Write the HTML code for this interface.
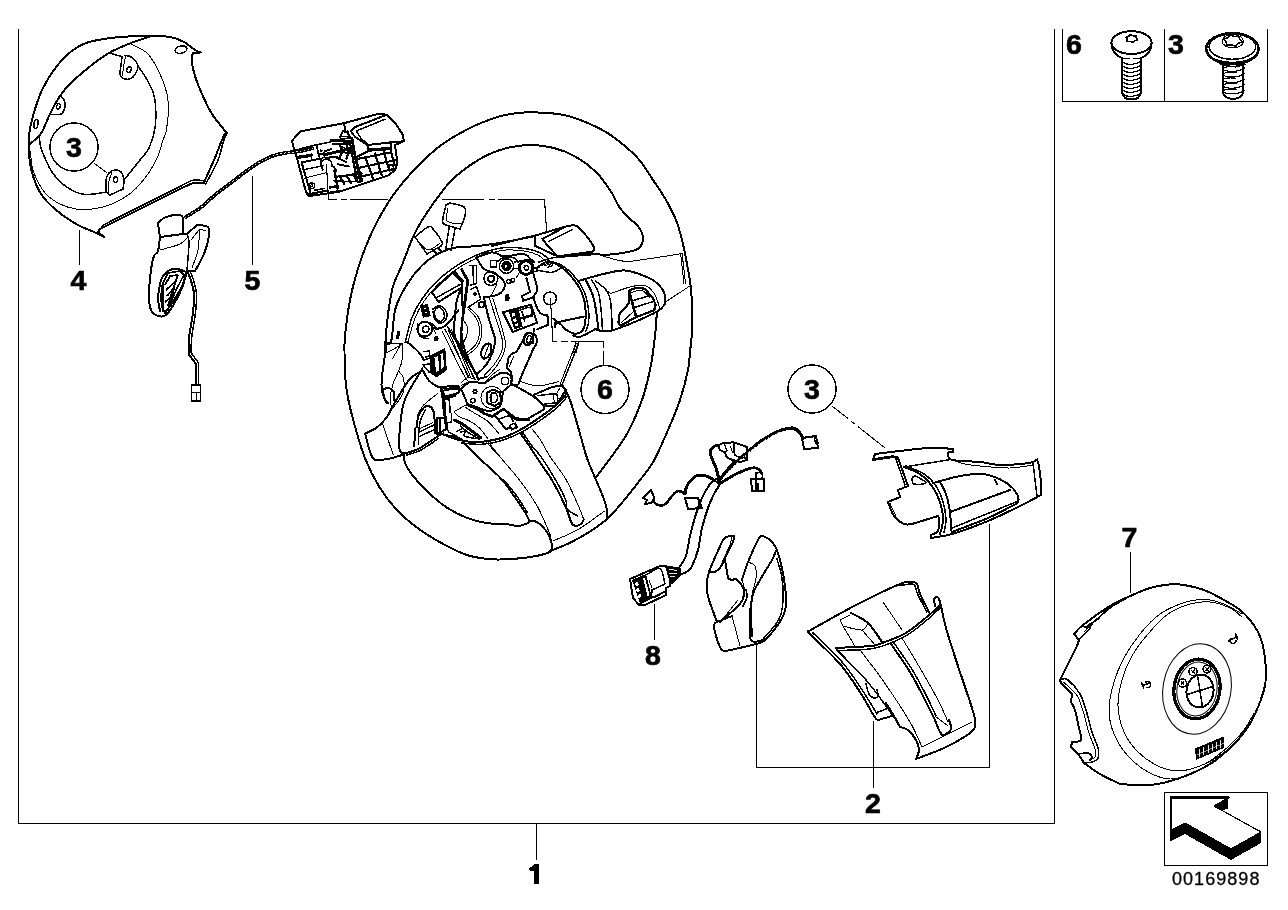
<!DOCTYPE html>
<html><head><meta charset="utf-8"><title>Steering wheel parts</title>
<style>
html,body{margin:0;padding:0;background:#fff;}
body{width:1288px;height:910px;overflow:hidden;position:relative;font-family:"Liberation Sans",sans-serif;}
svg{position:absolute;left:0;top:0;display:block;}
.f{fill:none;stroke:#000;stroke-width:1;shape-rendering:crispEdges;}
.k{fill:none;stroke:#000;stroke-width:2;stroke-linejoin:round;stroke-linecap:round;}
.m{fill:none;stroke:#000;stroke-width:1.5;stroke-linejoin:round;stroke-linecap:round;}
.t{fill:none;stroke:#000;stroke-width:1;stroke-linejoin:round;stroke-linecap:round;}
.w{fill:#fff;}
.b{fill:#000;stroke:none;}
.lb{font-family:"Liberation Sans",sans-serif;font-weight:bold;font-size:28.5px;fill:#000;text-anchor:middle;stroke:#000;stroke-width:0.7px;}
.id{font-family:"Liberation Sans",sans-serif;font-size:18px;fill:#000;letter-spacing:1.05px;stroke:#000;stroke-width:0.3px;}
</style></head><body>
<svg shape-rendering="crispEdges" width="1288" height="910" viewBox="0 0 1288 910">
<!-- frame -->
<g id="frame">
<path class="f" d="M18.5 29V823.5H1054.5V29"/>
<path class="f" d="M1062.5 29V101.5H1267.5V29M1164.5 29V101.5"/>
<path class="f" d="M536.5 823.5V859.5"/>
<rect class="f" x="1164.5" y="792.5" width="103" height="73"/>
</g>
<!-- labels -->
<g id="labels" style="filter:grayscale(1)">
<path class="b" d="M534.4 864H539V883.7H534.4V871.2C533 871.6 531 871.3 529 870.3V867.8C531.5 867.5 533.3 866.2 534.4 864Z"/>
<text class="lb" x="873" y="813">2</text>
<text class="lb" x="78.5" y="290">4</text>
<text class="lb" x="252.5" y="290">5</text>
<text class="lb" x="1129.5" y="547">7</text>
<text class="lb" x="653" y="665">8</text>
<text class="lb" x="1074" y="54">6</text>
<text class="lb" x="1176" y="54">3</text>
<text class="lb" x="74" y="157">3</text>
<text class="lb" x="605" y="399">6</text>
<text class="lb" x="812" y="399">3</text>
<text class="id" x="1172" y="884.5">00169898</text>
</g>
<g id="circles">
<circle class="m" cx="74" cy="147" r="24"/>
<circle class="m" cx="605" cy="389.5" r="24"/>
<circle class="m" cx="812" cy="389" r="24"/>
</g>
<g id="leaders">
<path class="f" d="M79.5 230V265M252.5 176V265M654.5 604V640M1130.5 552V593M873.5 721V788"/>
<path class="f" d="M756.5 644V767.5H989.5V524"/>
<path class="t" d="M832 406L848 418.5M851.5 421.5L855 424M858.5 427L885 448" style="stroke-width:1"/>
</g>
<!-- arrow -->
<g id="arrow">
<path class="b" d="M1171 830L1185 823L1231 849L1261 832V843L1231 860L1185 834L1171 841Z"/>
<path class="b" d="M1228 798V809L1222 810L1214 806Z"/>
<path d="M1171 798H1228L1214 806L1261 832L1231 849L1185 823L1171 830Z" fill="#fff" stroke="#000" stroke-width="1.2"/>
<path d="M1170 797.5H1229" stroke="#000" stroke-width="2.4" fill="none"/>
<path d="M1171 797V841" stroke="#000" stroke-width="1.6" fill="none"/>
</g>
<!-- screws -->
<g id="screws">
<path class="k w" d="M1111.4 43C1111.4 50 1114 54.5 1122 58.2C1128 60 1135 60 1141 58.2C1149 54.5 1151.6 50 1151.6 43Z"/>
<ellipse class="k w" cx="1131.5" cy="42.6" rx="20.1" ry="11.4"/>
<path class="k w" d="M1122.4 59V93.5L1125 98C1128 99.6 1135 99.6 1138 98L1140.5 93.5V59"/>
<path class="t" style="stroke-width:1.2" d="M1123 62.5C1127 65.1 1135 65.1 1140 61.7 M1123 66.5C1127 69.1 1135 69.1 1140 65.7 M1123 70.5C1127 73.1 1135 73.1 1140 69.7 M1123 74.5C1127 77.1 1135 77.1 1140 73.7 M1123 78.5C1127 81.1 1135 81.1 1140 77.7 M1123 82.5C1127 85.1 1135 85.1 1140 81.7 M1123 86.5C1127 89.1 1135 89.1 1140 85.7 M1123 90.5C1127 93.1 1135 93.1 1140 89.7 M1123 94.5C1127 97.1 1135 97.1 1140 93.7"/>
<path class="m" d="M1137.8 39.8L1134.8 40.7L1133.1 42.5L1130.3 41.3L1127.0 41.3L1127.2 39.2L1125.6 37.4L1128.6 36.5L1130.3 34.7L1133.1 35.9L1136.4 35.9L1136.2 38.0Z"/>
<ellipse class="k w" cx="1232.4" cy="48.7" rx="26.2" ry="15.6" style="stroke-width:2.4"/>
<ellipse class="m" cx="1232.4" cy="46.7" rx="23.3" ry="12.6"/>
<path class="m" d="M1207.5 52C1212 66 1253 66 1257.3 52"/>
<path class="k w" d="M1223.2 65V93C1224 96.5 1228 98.8 1233 98.8C1238 98.8 1242.2 96.5 1243 93V65"/>
<path class="t" style="stroke-width:1.2" d="M1222.2 69.0C1227 72.4 1238 72.4 1244.2 68.0 M1222.2 69.0C1224 66.8 1230 66.4 1236 67.0 M1222.2 74.6C1227 78.0 1238 78.0 1244.2 73.6 M1222.2 74.6C1224 72.4 1230 72.0 1236 72.6 M1222.2 80.2C1227 83.6 1238 83.6 1244.2 79.2 M1222.2 80.2C1224 78.0 1230 77.6 1236 78.2 M1222.2 85.8C1227 89.2 1238 89.2 1244.2 84.8 M1222.2 85.8C1224 83.6 1230 83.2 1236 83.8 M1222.2 91.4C1227 94.8 1238 94.8 1244.2 90.4 M1222.2 91.4C1224 89.2 1230 88.8 1236 89.4"/>
<path class="m" d="M1221 64.3C1228 67.3 1238 67.3 1245 64.3"/>
<path class="m" d="M1242.1 41.8L1238.0 43.5L1235.8 46.2L1231.4 44.9L1226.5 45.0L1226.2 42.0L1223.5 39.4L1227.6 37.7L1229.8 35.0L1234.2 36.3L1239.1 36.2L1239.4 39.2Z"/>
<ellipse class="t" cx="1232.8" cy="41.2" rx="10.5" ry="6.8"/>
</g>
<g id="10_part4">
<path class="k" d="M201 52.4C200.0 52.0 197.8 51.7 195 50C192.2 48.3 188.2 44.2 184 42C179.8 39.8 176.3 38.0 170 37C163.7 36.0 155.3 35.9 146 36C136.7 36.1 124.0 36.4 114 37.6C104.0 38.8 93.7 40.3 86 43C78.3 45.7 73.3 49.5 68 54C62.7 58.5 58.2 64.3 54 70C49.8 75.7 46.0 82.0 43 88C40.0 94.0 38.0 100.0 36 106C34.0 112.0 32.2 118.3 31 124C29.8 129.7 28.8 134.0 28.6 140C28.4 146.0 28.9 154.0 29.6 160C30.3 166.0 31.1 170.3 33 176C34.9 181.7 37.2 188.3 41 194C44.8 199.7 50.2 205.0 56 210C61.8 215.0 69.7 220.3 76 224C82.3 227.7 89.3 229.8 94 232C98.7 234.2 102.3 236.2 104 237L98 232L100 229C104.0 227.0 114.0 222.0 124 217C134.0 212.0 150.7 203.7 160 199C169.3 194.3 174.5 191.7 180 189C185.5 186.3 190.8 184.0 193 183L204 183C204.3 182.2 204.3 181.8 206 178C207.7 174.2 211.3 166.3 214 160C216.7 153.7 220.0 144.7 222 140C224.0 135.3 225.3 133.3 226 132C223.7 129.0 216.0 120.3 212 114C208.0 107.7 204.8 100.3 202 94C199.2 87.7 196.7 81.7 195 76C193.3 70.3 191.9 63.8 191.6 60C191.3 56.2 192.8 54.2 193 53L201 52.4M150 36.5C146.8 37.6 137.8 40.2 131 43C124.2 45.8 116.2 48.8 109 53C101.8 57.2 94.5 62.8 88 68C81.5 73.2 74.7 79.3 70 84C65.3 88.7 63.3 91.0 60 96C56.7 101.0 52.8 108.3 50 114C47.2 119.7 44.8 126.3 43 130C41.2 133.7 41.2 133.7 39 136C36.8 138.3 31.5 142.7 30 144"/>
<path class="m" d="M39 136C39.3 138.0 40.0 144.3 41 148C42.0 151.7 43.2 154.0 45 158C46.8 162.0 48.8 167.5 52 172C55.2 176.5 59.3 181.4 64 185C68.7 188.6 75.0 192.1 80 193.6C85.0 195.1 89.7 194.3 94 194C98.3 193.7 104.0 192.3 106 192M109 53L120 56M138 66C139.3 68.0 143.5 73.7 146 78C148.5 82.3 151.4 87.3 153 92C154.6 96.7 155.3 100.0 155.6 106C155.9 112.0 156.1 121.0 155 128C153.9 135.0 151.5 142.7 149 148C146.5 153.3 144.2 154.7 140 160C135.8 165.3 126.7 176.7 124 180M122 57C121.8 58.5 121.3 63.2 121 66C120.7 68.8 119.3 71.8 120 74C120.7 76.2 122.8 78.5 125 79C127.2 79.5 130.8 79.2 133 77C135.2 74.8 138.3 69.3 138 66C137.7 62.7 133.2 58.7 131 57C128.8 55.3 126.0 55.8 125 55.6"/>
<path class="t" d="M125.5 57C125.2 58.7 124.0 63.8 123.5 67C123.0 70.2 122.7 74.5 122.5 76"/>
<ellipse class="m" cx="129" cy="69.6" rx="2.2" ry="2.8" transform="rotate(20 129 69.6)"/>
<path class="m" d="M60 96C60.7 96.7 63.2 98.2 64 100C64.8 101.8 65.5 104.7 65 107C64.5 109.3 63.2 112.8 61 114C58.8 115.2 53.5 114.4 52 114.5"/>
<ellipse class="m" cx="58.4" cy="106.4" rx="1.8" ry="2.8" transform="rotate(15 58.4 106.4)"/>
<ellipse class="m" cx="36" cy="124" rx="2" ry="4.6" transform="rotate(8 36 124)"/>
<ellipse class="m" cx="181" cy="49.6" rx="6" ry="3.6" transform="rotate(-12 181 49.6)"/>
<path class="t" d="M131 44C133.8 45.7 143.2 49.0 148 54C152.8 59.0 156.8 67.3 160 74C163.2 80.7 165.6 87.7 167 94C168.4 100.3 168.6 105.7 168.4 112C168.2 118.3 166.9 127.3 166 132C165.1 136.7 164.3 136.0 163 140C161.7 144.0 160.5 150.3 158 156C155.5 161.7 152.3 168.0 148 174C143.7 180.0 138.0 187.0 132 192C126.0 197.0 118.7 201.2 112 204C105.3 206.8 98.0 208.2 92 209C86.0 209.8 81.3 209.8 76 209C70.7 208.2 65.0 206.5 60 204C55.0 201.5 50.0 198.3 46 194C42.0 189.7 38.3 182.7 36 178C33.7 173.3 32.9 170.3 32 166C31.1 161.7 30.8 154.3 30.5 152"/>
<path class="m" d="M103.5 225C106.9 223.2 114.6 219.2 124 214.5C133.4 209.8 150.7 201.2 160 196.5C169.3 191.8 174.7 189.2 180 186.5C185.3 183.8 188.2 181.5 192 180.5C195.8 179.5 201.2 180.5 203 180.5"/>
<path class="t" d="M103.5 225L100 229"/>
<path class="m" d="M227.5 133C226.8 134.3 225.0 136.7 223.5 141C222.0 145.3 220.8 153.0 218.5 159C216.2 165.0 211.7 172.8 209.5 177C207.3 181.2 206.2 182.8 205.5 184M106 192C106.0 190.0 105.5 183.2 106 180C106.5 176.8 107.5 174.7 109 173C110.5 171.3 113.0 170.2 115 170C117.0 169.8 119.5 170.3 121 172C122.5 173.7 123.7 177.2 124 180C124.3 182.8 123.2 187.5 123 189L110 195L106 192"/>
<path class="t" d="M108.5 193C108.6 191.0 108.4 184.4 109 181C109.6 177.6 111.5 173.9 112 172.5"/>
<ellipse class="m" cx="115.6" cy="179.6" rx="2" ry="2.8" transform="rotate(10 115.6 179.6)"/>
<path class="t" d="M94 163L107 173"/>
</g>
<g id="11_part5">
<path class="k" d="M292 140.7L300.4 131.4L344.3 123.1L379 113.6L386.6 114.7L394.9 122.6L403.1 135.2L403.7 141.3L394.9 145.1C395.3 147.9 397.1 158.0 397.1 162.1C397.1 166.2 396.4 167.6 394.9 169.8C393.4 172.0 389.4 174.4 388.3 175.3L338.8 191.8L308.6 196.2L305.9 191.8L296 154.5L293.8 148.4L292 140.7"/>
<path class="m" d="M293.8 148.4L296 150C298.8 149.3 306.6 147.1 312.5 145.7C318.4 144.3 328.1 142.5 331.2 141.8L332.3 140.2L351 138"/>
<path class="k" d="M344.3 123.1L344.9 132.5M351 131.4L355.3 127L385 115.4"/>
<path class="m" d="M356.4 130.8L385 119.3"/>
<path class="k" d="M351 131.4C351.7 132.3 352.6 134.6 355.3 136.9C358.0 139.2 365.4 143.7 367.4 145.1C371.2 144.7 384.4 143.0 390.5 142.4C396.6 141.8 401.5 141.5 403.7 141.3"/>
<path class="m" d="M356.4 130.8C357.1 132.0 358.8 135.7 360.8 138C362.8 140.3 367.2 143.6 368.5 144.7"/>
<path class="k" d="M367.4 145.1L368.5 151.2L355.3 157.7M352 138C352.6 141.3 354.0 150.8 355.3 157.7C356.6 164.6 359.0 176.0 359.7 179.7"/>
<path d="M301.5 162.1L310.8 194.0" fill="none" stroke="#000" stroke-width="2" stroke-linejoin="round" stroke-linecap="round"/>
<path d="M297.1 157.5L311.4 155.3" fill="none" stroke="#000" stroke-width="3.2" stroke-linejoin="round" stroke-linecap="round"/>
<path d="M311.4 153.4L311.4 158.8" fill="none" stroke="#000" stroke-width="1.6" stroke-linejoin="round" stroke-linecap="round"/>
<path d="M301.5 162.4L318.0 159.1" fill="none" stroke="#000" stroke-width="2" stroke-linejoin="round" stroke-linecap="round"/>
<path d="M302.6 169.8L323.5 165.7" fill="none" stroke="#000" stroke-width="1.4" stroke-linejoin="round" stroke-linecap="round"/>
<path d="M304.2 178.1L325.7 172.8" fill="none" stroke="#000" stroke-width="1" stroke-linejoin="round" stroke-linecap="round"/>
<path d="M308.6 194.2L325.7 190.9" fill="none" stroke="#000" stroke-width="2.2" stroke-linejoin="round" stroke-linecap="round"/>
<path d="M314.7 190.2L324.6 188.5" fill="none" stroke="#000" stroke-width="1.6" stroke-linejoin="round" stroke-linecap="round"/>
<path d="M330.1 187.4L337.7 186.3" fill="none" stroke="#000" stroke-width="2.6" stroke-linejoin="round" stroke-linecap="round"/>
<path d="M330.1 192.9L338.8 191.3" fill="none" stroke="#000" stroke-width="2.6" stroke-linejoin="round" stroke-linecap="round"/>
<path d="M316.9 144.8L318.0 153.4L323.5 154.5L324.8 151.2L331.2 149.0" fill="none" stroke="#000" stroke-width="1.8" stroke-linejoin="round" stroke-linecap="round"/>
<path d="M319.9 148.4L323.7 151.2L320.2 152.0Z" fill="#000"/>
<path d="M318.0 153.4L321.3 162.1" fill="none" stroke="#000" stroke-width="1.6" stroke-linejoin="round" stroke-linecap="round"/>
<path d="M320.2 159.9L324.6 156.6" fill="none" stroke="#000" stroke-width="1.4" stroke-linejoin="round" stroke-linecap="round"/>
<path d="M331.2 140.4L352.0 141.5" fill="none" stroke="#000" stroke-width="3" stroke-linejoin="round" stroke-linecap="round"/>
<path d="M333.4 143.7L349.8 143.7" fill="none" stroke="#000" stroke-width="2.4" stroke-linejoin="round" stroke-linecap="round"/>
<path d="M324.6 154.7L350.9 148.6" fill="none" stroke="#000" stroke-width="3" stroke-linejoin="round" stroke-linecap="round"/>
<path d="M325.7 158.0L336.6 156.6" fill="none" stroke="#000" stroke-width="2" stroke-linejoin="round" stroke-linecap="round"/>
<path d="M343.2 130.5L339.9 137.1" fill="none" stroke="#000" stroke-width="2" stroke-linejoin="round" stroke-linecap="round"/>
<path d="M347.4 131.6L349.8 138.0" fill="none" stroke="#000" stroke-width="2.4" stroke-linejoin="round" stroke-linecap="round"/>
<path d="M341.0 136.3L349.3 136.9" fill="none" stroke="#000" stroke-width="1.6" stroke-linejoin="round" stroke-linecap="round"/>
<path d="M339.9 144.6L342.4 151.2L339.9 156.6" fill="none" stroke="#000" stroke-width="2.2" stroke-linejoin="round" stroke-linecap="round"/>
<path d="M346.5 144.8L348.7 151.2L346.5 158.8" fill="none" stroke="#000" stroke-width="2.2" stroke-linejoin="round" stroke-linecap="round"/>
<path d="M336.6 151.2L350.9 153.4" fill="none" stroke="#000" stroke-width="2" stroke-linejoin="round" stroke-linecap="round"/>
<path d="M334.5 156.6L346.5 162.1" fill="none" stroke="#000" stroke-width="2" stroke-linejoin="round" stroke-linecap="round"/>
<path d="M342.1 146.8L346.5 149.0" fill="none" stroke="#000" stroke-width="1.6" stroke-linejoin="round" stroke-linecap="round"/>
<path d="M337.7 164.3L348.7 166.5" fill="none" stroke="#000" stroke-width="2" stroke-linejoin="round" stroke-linecap="round"/>
<path d="M333.4 166.5L336.6 170.9" fill="none" stroke="#000" stroke-width="1.8" stroke-linejoin="round" stroke-linecap="round"/>
<path d="M352.0 138.0L355.3 157.7L361.9 180.8" fill="none" stroke="#000" stroke-width="2.8" stroke-linejoin="round" stroke-linecap="round"/>
<path d="M349.8 141.5L353.1 159.9L357.5 181.9" fill="none" stroke="#000" stroke-width="2.2" stroke-linejoin="round" stroke-linecap="round"/>
<path d="M355.3 157.7L368.5 151.2L367.4 145.1" fill="none" stroke="#000" stroke-width="2.2" stroke-linejoin="round" stroke-linecap="round"/>
<path d="M368.5 150.1L390.5 148.5" fill="none" stroke="#000" stroke-width="3.4" stroke-linejoin="round" stroke-linecap="round"/>
<path d="M390.5 142.4L391.6 154.5L394.9 164.9" fill="none" stroke="#000" stroke-width="2" stroke-linejoin="round" stroke-linecap="round"/>
<path d="M365.2 156.6L372.9 178.6" fill="none" stroke="#000" stroke-width="2.2" stroke-linejoin="round" stroke-linecap="round"/>
<path d="M375.1 153.4L381.7 175.3" fill="none" stroke="#000" stroke-width="2.2" stroke-linejoin="round" stroke-linecap="round"/>
<path d="M383.9 152.3L389.4 170.9" fill="none" stroke="#000" stroke-width="2.2" stroke-linejoin="round" stroke-linecap="round"/>
<path d="M356.4 159.1L390.5 152.5" fill="none" stroke="#000" stroke-width="2" stroke-linejoin="round" stroke-linecap="round"/>
<path d="M358.6 167.9L394.9 160.2" fill="none" stroke="#000" stroke-width="2" stroke-linejoin="round" stroke-linecap="round"/>
<path d="M360.8 176.6L393.8 169.0" fill="none" stroke="#000" stroke-width="2" stroke-linejoin="round" stroke-linecap="round"/>
<path d="M334.5 170.9L337.7 188.5" fill="none" stroke="#000" stroke-width="2.4" stroke-linejoin="round" stroke-linecap="round"/>
<path d="M337.7 176.6L361.9 173.4" fill="none" stroke="#000" stroke-width="2" stroke-linejoin="round" stroke-linecap="round"/>
<path d="M333.4 180.8L360.8 181.9" fill="none" stroke="#000" stroke-width="1.4" stroke-linejoin="round" stroke-linecap="round"/>
<path d="M339.9 176.4L344.3 184.1" fill="none" stroke="#000" stroke-width="2.2" stroke-linejoin="round" stroke-linecap="round"/>
<path d="M346.5 175.3L350.9 183.0" fill="none" stroke="#000" stroke-width="2.2" stroke-linejoin="round" stroke-linecap="round"/>
<path d="M353.1 174.2L357.5 181.9" fill="none" stroke="#000" stroke-width="2.2" stroke-linejoin="round" stroke-linecap="round"/>
<path d="M388.3 166.5L393.8 164.3" fill="none" stroke="#000" stroke-width="1.6" stroke-linejoin="round" stroke-linecap="round"/>
<circle class="m" cx="391.0" cy="167.6" r="2.6"/>
<circle class="m" cx="311.9" cy="185.8" r="2.8"/>
<circle class="t" cx="311.9" cy="185.8" r="1.2"/>
<path class="m" d="M323 170C322.6 169.2 320.9 166.6 320.8 165C320.7 163.4 321.5 161.4 322.5 160.5C323.5 159.6 325.6 159.1 327 159.3C328.4 159.5 330.2 160.4 331 161.5C331.8 162.6 331.8 165.2 332 166"/>
<path d="M184.5 217.8C187.4 215.9 196.8 210.6 202 206.6C207.2 202.6 211.3 197.8 216 194C220.7 190.2 225.4 187.1 230 183.6C234.6 180.1 239.2 176.4 243.8 173C248.4 169.6 253.1 166.1 257.8 163.3C262.5 160.5 267.1 158.1 271.8 156.3C276.5 154.6 281.2 153.6 285.8 152.8C290.4 152.0 295.1 152.2 299.7 151.4C304.3 150.6 311.4 148.6 313.7 148" fill="none" stroke="#000" stroke-width="3.6" stroke-linecap="butt"/>
<path d="M184.5 217.8C187.4 215.9 196.8 210.6 202 206.6C207.2 202.6 211.3 197.8 216 194C220.7 190.2 225.4 187.1 230 183.6C234.6 180.1 239.2 176.4 243.8 173C248.4 169.6 253.1 166.1 257.8 163.3C262.5 160.5 267.1 158.1 271.8 156.3C276.5 154.6 281.2 153.6 285.8 152.8C290.4 152.0 295.1 152.2 299.7 151.4C304.3 150.6 311.4 148.6 313.7 148" fill="none" stroke="#fff" stroke-width="0.9" stroke-dasharray="1.5 2.5"/>
<path class="t" style="stroke-width:1.1" d="M326.5 165L328.5 199.5"/>
<path class="f" d="M328.5 199.5H336.6M340.5 199.5H347M349.8 199.5H388.3"/>
<path class="f" d="M442 199.5H484M489 199.5H495M498 199.5H544.5"/>
<path class="t" style="stroke-width:1.1" d="M544.5 199.5L546.5 230"/>
</g>
<g id="12_part5left">
<path class="k" d="M158 223C159.3 222.0 162.3 218.3 166 217C169.7 215.7 177.2 214.8 180 215C182.8 215.2 182.5 217.5 183 218L183 234L160 237L158 223M160 237C159.7 239.3 159.0 247.8 158 251C157.0 254.2 155.2 252.8 154 256C152.8 259.2 151.8 263.7 151 270C150.2 276.3 149.0 287.3 149 294C149.0 300.7 149.5 306.3 151 310C152.5 313.7 155.5 315.2 158 316C160.5 316.8 163.3 317.0 166 315C168.7 313.0 171.3 308.5 174 304C176.7 299.5 179.8 293.5 182 288C184.2 282.5 186.2 273.8 187 271M183 234L187 234L197 225C198.8 225.3 206.0 225.2 208 227C210.0 228.8 209.7 231.5 209 236C208.3 240.5 206.3 248.2 204 254C201.7 259.8 196.5 268.2 195 271L187 271"/>
<path class="m" d="M187 234C187.3 235.3 189.0 235.8 189 242C189.0 248.2 187.3 266.2 187 271"/>
<path class="t" d="M191 240C192.4 238.3 197.1 231.5 199.5 230C201.9 228.5 204.5 230.8 205.5 231M199.5 230C199.2 233.3 199.2 243.7 198 250C196.8 256.3 193.0 265.0 192 268M160 250C163.3 249.0 175.2 246.3 180 244C184.8 241.7 187.5 237.3 189 236"/>
<path class="k" d="M160 284C160.5 282.7 161.3 278.3 163 276C164.7 273.7 167.5 271.2 170 270C172.5 268.8 175.3 268.7 178 269C180.7 269.3 184.7 271.5 186 272M160 284C159.7 286.3 158.0 293.5 158 298C158.0 302.5 159.7 308.8 160 311"/>
<path class="m" d="M162 286C161.8 288.3 160.8 295.8 161 300C161.2 304.2 162.7 309.2 163 311"/>
<path class="k" d="M186 272C185.5 274.0 185.0 279.3 183 284C181.0 288.7 177.0 295.2 174 300C171.0 304.8 166.5 310.8 165 313"/>
<path d="M163 283L168 273L180 271L184 275L176 290L168 310L163 311Z" fill="none" stroke="#000" stroke-width="1.6" stroke-linejoin="round"/>
<path d="M165 285L170 276L178 275M166 290L176 281M167 296L174 288L170 304M165 302L172 296M178 275L172 292L168 306" fill="none" stroke="#000" stroke-width="1.8"/>
<path class="k" d="M187 271C187.6 272.3 189.4 275.5 190.5 279C191.6 282.5 193.2 287.8 193.8 292C194.4 296.2 194.1 299.7 193.8 304C193.5 308.3 193.0 312.3 192.2 318C191.4 323.7 189.6 332.0 189 338C188.4 344.0 188.7 351.3 188.6 354L196 364L196 385"/>
<path class="m" d="M189.5 270.5C190.1 271.8 191.9 274.9 193 278.5C194.1 282.1 195.8 287.8 196.3 292C196.9 296.2 196.6 299.7 196.3 304C196.0 308.3 195.5 312.3 194.7 318C193.9 323.7 192.2 332.2 191.6 338C191.0 343.8 191.3 350.5 191.2 353L198.6 363L198.6 385"/>
<rect class="m" x="191.6" y="385" width="9" height="16"/>
<path class="t" d="M191.6 392.5h9M196 393v8"/>
</g>
<g id="20_rim">
<path class="k" d="M344.5 352C344.6 349.3 344.1 344.7 345 336C345.9 327.3 347.9 311.0 350 300C352.1 289.0 354.9 279.0 357.6 270C360.3 261.0 362.6 254.3 366 246C369.4 237.7 373.3 228.7 378 220C382.7 211.3 388.0 202.3 394 194C400.0 185.7 406.3 178.0 414 170C421.7 162.0 430.7 153.0 440 146C449.3 139.0 460.4 132.8 470 128C479.6 123.2 489.9 119.5 497.6 117C505.3 114.5 509.6 114.0 516 113.2C522.4 112.4 528.0 112.1 536 112.4C544.0 112.7 555.0 113.1 564 115C573.0 116.9 582.0 120.5 590 124C598.0 127.5 604.1 130.3 612 136C619.9 141.7 630.8 150.7 637.6 158C644.4 165.3 648.3 173.0 653 180C657.7 187.0 662.2 193.3 666 200C669.8 206.7 673.3 213.3 676 220C678.7 226.7 680.2 232.7 682 240C683.8 247.3 685.6 256.5 687 264C688.4 271.5 689.6 277.3 690.5 285C691.4 292.7 692.1 302.2 692.4 310C692.6 317.8 692.4 325.0 692 332C691.6 339.0 690.7 345.7 690 352C689.3 358.3 689.7 362.0 688 370C686.3 378.0 683.3 390.0 680 400C676.7 410.0 672.4 419.8 668 430C663.6 440.2 658.4 452.6 653.7 461C649.0 469.4 644.8 473.8 639.7 480.5C634.6 487.2 628.6 495.0 623 501.5C617.4 508.0 612.3 514.4 606.2 519.7C600.1 525.1 593.1 529.5 586.6 533.6C580.1 537.7 572.9 541.3 567.1 544.1C561.3 546.9 555.0 548.9 551.7 550.4C548.4 551.9 551.5 552.0 547.5 553.2C543.5 554.4 535.9 556.4 528 557.4C520.1 558.4 507.3 559.3 500 559.5C492.7 559.7 490.0 559.4 484 558.5C478.0 557.6 472.0 557.1 464 554C456.0 550.9 444.1 544.6 436 540C427.9 535.4 422.2 531.7 415.5 526.5C408.8 521.3 402.0 515.6 395.9 509C389.8 502.4 384.2 495.0 379.1 486.6C374.0 478.2 369.1 468.5 365.2 458.7C361.2 448.9 358.2 437.7 355.4 427.9C352.6 418.1 350.1 408.8 348.4 400C346.7 391.2 345.6 383.0 345 375C344.4 367.0 344.6 355.8 344.5 352M385.6 352.2C385.8 347.3 385.8 333.5 387 322.8C388.2 312.1 390.0 297.7 392.6 287.9C395.2 278.1 398.9 272.8 402.4 264.1C405.9 255.5 409.6 244.3 413.5 236C417.4 227.7 419.9 223.0 426 214C432.1 205.0 441.8 190.7 450 182C458.2 173.3 466.7 167.3 475 162C483.3 156.7 491.2 152.8 500 150C508.8 147.2 519.0 145.3 528 145C537.0 144.7 546.0 146.0 554 148C562.0 150.0 569.0 153.0 576 157C583.0 161.0 590.3 166.5 596 172C601.7 177.5 606.0 184.0 610 190C614.0 196.0 616.7 203.2 620 208C623.3 212.8 627.0 216.0 630 219C633.0 222.0 635.8 222.8 638 226C640.2 229.2 642.8 234.3 643 238C643.2 241.7 641.5 245.7 639 248C636.5 250.3 633.8 250.8 628 252C622.2 253.2 609.7 254.7 604 255C598.3 255.3 601.7 253.7 594 254C586.3 254.3 564.0 256.5 558 257M384.7 343C385.8 342.7 389.4 346.7 391.2 341C393.0 335.3 392.8 318.1 395.4 308.8C398.0 299.5 402.2 292.3 406.6 285.1C411.0 277.9 417.0 270.5 421.9 265.5C426.8 260.5 430.8 257.9 435.9 255C441.0 252.1 445.7 249.5 452.7 248C459.7 246.5 468.9 247.0 477.8 246C486.7 245.0 496.3 243.5 505.8 241.8C515.3 240.1 530.1 237.0 535 236"/>
<path class="t" d="M603.8 256.4C607.3 257.2 617.8 260.8 624.8 261.3C631.8 261.8 636.2 260.5 645.8 259.2C655.3 257.9 676.0 254.5 682.1 253.6L685.6 283.7M680.7 254L684 283.5M689.1 286.5L666.7 301.2"/>
<path class="k" d="M656.9 311.6C656.7 314.6 656.2 323.1 655.6 329.8C655.0 336.5 653.9 345.3 653 352C652.1 358.7 651.8 362.0 650 370C648.2 378.0 645.7 389.7 642 400C638.3 410.3 633.3 422.3 628 432C622.7 441.7 615.8 450.6 610.4 458.2C605.0 465.8 598.2 474.4 595.7 477.7M563 385.9C564.2 388.2 567.5 392.9 570 399.9C572.5 406.9 575.5 418.2 578.3 427.8C581.1 437.4 583.9 448.9 586.7 457.2C589.5 465.5 592.3 471.2 595 477.7C597.7 484.1 600.7 490.5 602.7 495.9C604.7 501.3 606.2 506.0 606.9 509.9C607.6 513.8 606.9 517.5 606.9 519M418.3 372.7C416.8 373.9 412.7 375.4 409 380C405.3 384.6 398.8 395.9 395.9 400.6C393.0 405.3 393.3 405.5 391.7 408.4C390.1 411.3 388.7 414.9 386.1 418.2C383.5 421.4 379.8 425.3 376.3 427.9C372.8 430.4 367.1 432.6 365.2 433.5C365.6 435.4 366.8 440.7 367.9 444.7C369.0 448.7 371.4 455.2 372.1 457.3C372.8 457.8 373.5 459.9 376.3 460.1C379.1 460.3 384.7 459.5 388.9 458.7C393.1 457.9 398.7 456.1 401.5 455.2C404.3 454.3 405.0 453.5 405.7 453.1"/>
<path class="t" d="M382.6 423.8L393.1 454.5"/>
<path class="k" d="M422.5 368.5C420.4 372.0 413.0 383.8 409.9 389.4C406.8 395.0 405.4 397.9 404 402C402.6 406.1 402.3 408.5 401.5 414C400.7 419.5 399.8 429.1 399.4 434.9C399.0 440.7 399.0 446.0 399.4 448.9C399.8 451.8 400.4 451.7 401.5 452.4C402.6 453.1 402.9 453.7 405.7 453.1C408.5 452.5 414.4 450.8 418.3 448.9C422.2 447.0 426.1 444.0 429.4 441.9C432.6 439.8 435.5 437.7 437.8 436.3C440.1 434.9 442.5 434.0 443.4 433.5"/>
<path class="m" d="M407 455C409.0 454.3 415.1 452.8 419 451C422.9 449.2 427.2 446.1 430.5 444C433.8 441.9 437.2 439.4 438.5 438.5"/>
<path class="k" d="M404.3 453.1C404.4 454.7 403.6 459.2 405 462.9C406.4 466.6 409.1 470.9 412.7 475.5C416.3 480.1 421.2 485.7 426.6 490.8C432.0 495.9 438.3 501.8 444.8 506.2C451.3 510.6 458.8 514.6 465.8 517.4C472.8 520.2 479.7 521.8 486.7 523C493.7 524.2 502.4 523.9 507.7 524.4C513.0 524.9 514.8 526.2 518.2 526C521.6 525.8 526.1 523.9 528 523C529.9 522.1 529.1 520.8 529.3 520.4M529.3 520.4C530.7 520.7 534.9 520.7 537.7 522.4C540.5 524.1 543.9 527.8 546.1 530.8C548.3 533.8 550.1 537.6 551 540.6C551.9 543.6 552.3 546.9 551.7 549C551.1 551.1 548.2 552.5 547.5 553.2"/>
<path class="t" d="M553.8 540.6C557.9 538.7 569.9 534.3 578.3 529.4C586.7 524.5 599.8 514.3 604.1 511.3"/>
<path class="k" d="M443.4 434.9C446.0 435.4 455.1 436.1 458.8 437.7C462.5 439.3 462.3 441.2 465.8 444.7C469.3 448.2 473.9 453.1 479.7 458.7C485.5 464.3 495.0 472.1 500.7 478.3C506.4 484.5 509.9 490.3 514 496C518.1 501.7 522.7 508.6 525.2 512.7C527.8 516.8 528.6 519.1 529.3 520.4"/>
<path class="m" d="M503.5 479.7C505.6 482.2 512.1 489.6 516 495C519.9 500.4 525.2 509.2 527 512"/>
<path class="t" d="M488.1 441.9C490.1 444.4 494.5 450.1 500 456.8C505.5 463.5 514.7 473.6 521 482C527.3 490.4 532.7 497.9 537.7 507C542.7 516.1 548.8 531.5 551 536.4M486.1 441.8L500.1 457.2"/>
<path class="k" d="M521 434.1C522.4 436.1 526.4 441.5 529.4 446C532.4 450.5 535.1 455.0 539.1 461C543.1 467.0 548.7 474.3 553.1 482C557.5 489.7 562.7 500.3 565.7 507C568.7 513.7 569.7 519.2 571.3 522.4C572.9 525.6 573.9 525.8 575.5 526C577.1 526.2 579.6 524.8 581 523.8C582.4 522.8 583.3 520.4 583.8 519.7"/>
<path class="m" d="M523 433C524.5 435.2 528.9 441.8 532 446C535.1 450.2 537.9 452.2 541.9 458C545.9 463.8 551.9 473.5 555.9 480.5C559.9 487.5 563.9 495.2 565.7 500C567.6 504.8 565.0 506.3 567 509C569.0 511.7 575.8 514.8 577.6 516"/>
<path class="t" d="M532.2 429.2C533.6 431.0 537.5 435.3 540.5 440C543.5 444.7 546.2 450.7 550.4 457.2C554.6 463.7 561.1 470.9 565.7 479C570.4 487.1 575.3 498.9 578.3 505.7C581.3 512.5 582.9 517.4 583.8 519.7"/>
<path class="k" d="M384.7 341.9C384.7 344.2 385.2 350.1 384.7 355.9C384.2 361.7 382.4 371.1 381.9 376.9C381.4 382.7 381.2 386.6 381.9 390.8C382.6 395.0 385.1 399.9 386.1 402C387.2 404.1 387.9 403.2 388.2 403.4"/>
<path class="m" d="M384.7 343L402.9 344"/>
<path class="t" d="M402.9 344C402.7 347.1 403.1 356.3 401.5 362.9C399.9 369.5 395.0 378.0 393.1 383.8C391.2 389.6 390.5 393.6 390.3 397.8C390.1 402.0 391.5 407.1 391.7 409M386.1 353.1L402 344.5M392.4 358.7L400 346M398.7 371.3C399.5 372.5 402.8 375.1 403.6 378.3C404.4 381.6 404.4 387.1 403.6 390.8C402.8 394.5 400.7 397.6 398.7 400.6C396.7 403.6 392.9 407.6 391.7 409"/>
<path class="k" d="M382.6 389.4C383.7 389.2 387.0 387.5 388.9 388C390.8 388.5 393.0 390.1 393.8 392.2C394.6 394.3 393.8 399.2 393.8 400.6"/>
<path class="m" d="M382.6 389.4C383.0 390.8 383.8 395.5 384.7 397.8C385.6 400.1 387.6 402.5 388.2 403.4"/>
<rect x="396.6" y="331" width="3" height="8.5" rx="1.3" class="b" transform="rotate(8 398 335)"/>
</g>
<g id="21_hubtop">
<path class="m" d="M446 205L450 203C452.3 203.7 461.5 204.8 464 207C466.5 209.2 465.7 212.3 465 216C464.3 219.7 460.8 226.8 460 229C457.3 228.2 446.8 225.8 444 224C441.2 222.2 442.7 221.2 443 218C443.3 214.8 445.5 207.2 446 205"/>
<path class="t" d="M448 208C447.8 210.2 444.8 218.3 447 221C449.2 223.7 458.7 223.5 461 224"/>
<path class="m" d="M449 228L445.5 251M455 229L451 250.5M415 237C417.2 235.3 425.0 228.3 428 227C431.0 225.7 430.7 226.5 433 229C435.3 231.5 440.7 239.2 442 242C443.3 244.8 441.2 245.3 441 246L427 254L415 237"/>
<path class="t" d="M417.5 240.5C419.2 242.1 424.3 249.5 428 250C431.7 250.5 437.6 244.6 439.5 243.5"/>
<path class="m" d="M433 250L437 254M438 248L442 252"/>
<path class="k" d="M535.4 235.5L535.4 246M535.4 235.5L566.1 226.4C567.7 226.3 572.9 224.5 575.9 225.7C578.9 226.9 581.3 229.8 584.3 233.4C587.3 237.0 592.7 244.4 594.1 247.4C595.5 250.4 592.9 250.9 592.7 251.6L557.7 256.4C556.1 254.7 550.5 248.9 547.9 246C545.3 243.1 543.3 240.2 542.4 239L566.1 226.4"/>
<path class="t" d="M547.9 241.8L573 229.2"/>
<path class="k" d="M520 239L535.4 235.5M492 246L520 239M535.4 246L557.7 256.4"/>
<path class="m" d="M405.2 342.4C406.4 338.2 409.3 324.4 412.1 317.2C414.9 310.0 417.9 304.9 421.9 299.1C425.9 293.3 430.8 287.4 435.9 282.3C441.0 277.2 447.1 272.3 452.7 268.3C458.3 264.3 463.8 261.3 469.4 258.5C475.0 255.7 480.1 253.4 486.2 251.6C492.3 249.8 499.1 247.9 505.8 247.4C512.6 246.9 520.9 247.9 526.7 248.8C532.5 249.7 537.2 251.3 540.7 252.9C544.2 254.5 546.5 257.6 547.7 258.5"/>
<path class="t" d="M408 342C409.1 338.1 412.1 325.3 414.8 318.5C417.5 311.7 420.3 306.7 424.2 301C428.1 295.3 432.9 289.6 438 284.5C443.1 279.4 449.0 274.6 454.5 270.6C460.0 266.7 465.5 263.6 471 260.8C476.5 258.0 481.7 255.8 487.5 254C493.3 252.2 499.6 250.4 506 250C512.4 249.6 520.6 250.4 526 251.3C531.4 252.2 535.5 253.9 538.5 255.3C541.5 256.8 543.1 259.2 544 260"/>
<path d="M454 271.1L462.4 280.9L461.4 290L463.2 312L461 334L462 349.3L476.4 374.6" stroke="#000" stroke-width="2.4" fill="none" stroke-linejoin="round"/>
<path d="M461 268.3L468 280.9L466.5 290L464.3 306.5L463.2 314" stroke="#000" stroke-width="2.8" fill="none" stroke-linejoin="round"/>
<path class="k" d="M461 288C460.3 290.0 457.9 296.3 457 300C456.1 303.7 455.9 304.3 455.5 310C455.1 315.7 453.5 327.8 454.4 334C455.3 340.2 459.9 344.8 461 347"/>
<path class="m" d="M469.4 265.5L476.4 265.5L476.4 283.7L470.8 285.1M473 266L473.5 284"/>
<path class="k" d="M431.7 292.1L452.7 272.5L461 280.9M431.7 292.1L438.7 301.9L461 287.9"/>
<path class="m" d="M436 298L460 284.5M433 309C433.7 308.5 435.7 306.3 437.3 306C438.9 305.7 441.3 306.0 442.9 307.4C444.5 308.8 446.8 312.1 447 314.4C447.2 316.7 445.7 320.0 444.3 321.4C442.9 322.8 440.3 323.3 438.7 322.8C437.1 322.3 435.4 320.5 434.5 318.6C433.6 316.7 433.2 312.8 433 311.6"/>
<ellipse class="m" cx="439.4" cy="314.4" rx="4.8" ry="7" transform="rotate(-15 439.4 314.4)"/>
<path d="M420.5 306L427.5 304.6L430.3 315.8L423.3 317.2Z" fill="#000" stroke="#000" stroke-width="1"/>
<path d="M423.5 308.5h2M424.5 312.5h2.3" stroke="#fff" stroke-width="1.3"/>
<circle class="k" cx="424.7" cy="329.1" r="7.4"/>
<circle class="m" cx="425.7" cy="329.3" r="3.2"/>
<path class="m" d="M417.5 324C417.9 326.0 418.2 333.6 420 336C421.8 338.4 426.7 338.1 428 338.5"/>
<path class="k" d="M430.3 322.8C431.0 323.7 431.9 327.9 434.5 328.4C437.1 328.9 441.7 328.6 445.7 325.6C449.7 322.6 456.2 312.8 458.3 310.2"/>
<path class="t" d="M432 326L436 333.5"/>
<circle class="b" cx="435.9" cy="338.9" r="2.4"/>
<path class="t" d="M468.7 309.8C470.0 311.3 474.6 314.9 476.4 318.6C478.2 322.3 479.9 327.4 479.7 331.8C479.5 336.2 477.7 341.4 475.3 345C472.9 348.6 467.0 352.2 465.4 353.7M468.7 307.4C470.3 309.0 476.1 312.9 478.3 317C480.5 321.1 482.2 326.9 482 331.8C481.8 336.7 479.9 342.5 477.3 346.5C474.7 350.5 468.4 354.2 466.6 355.8M463.2 319.7C463.9 321.0 467.1 324.6 467.6 327.4C468.2 330.1 467.4 333.3 466.5 336.2C465.6 339.1 462.8 343.5 462 345"/>
<path class="m" d="M470.8 289.3L476.4 286.5L480.6 299.1L468 307.4"/>
<circle class="b" cx="475" cy="294.2" r="1.9"/>
<circle class="m" cx="482" cy="304.7" r="2.8"/>
<path class="k" d="M476.4 257.5C477.6 259.4 480.6 265.9 483.9 268.7C487.2 271.5 492.7 272.3 496 274.3C499.3 276.3 502.1 278.6 503.5 280.8C504.9 283.0 504.9 285.3 504.4 287.3C503.9 289.3 502.7 291.5 500.7 293C498.7 294.5 495.1 295.6 492.3 296.2C489.5 296.8 485.3 296.6 483.9 296.7M476.4 257.5C478.4 256.7 485.3 253.6 488.6 252.8C491.9 252.0 494.8 252.8 496 252.8L501.6 256.1C503.3 256.0 508.6 256.0 511.9 255.6C515.2 255.2 518.6 253.6 521.2 253.7C523.9 253.8 525.9 254.5 527.8 256.1C529.7 257.7 531.5 260.2 532.4 263.1C533.3 266.0 532.6 269.0 533.4 273.3C534.2 277.6 537.1 285.3 537.1 289.2C537.1 293.1 534.0 295.4 533.4 296.7C533.9 298.2 535.0 303.2 536.2 306C537.4 308.8 538.9 311.9 540.8 313.5C542.7 315.1 546.3 315.1 547.4 315.4L548.3 324.7L537.1 329.4"/>
<circle class="m" cx="490.9" cy="278.5" r="7"/>
<circle class="k" cx="491.2" cy="278.7" r="3.2"/>
<path class="t" d="M497 284L491 296"/>
<path class="k" d="M483.9 297.6C484.7 300.9 487.0 311.8 488.5 317.5C490.0 323.2 491.8 328.1 492.9 331.8C494.0 335.5 495.0 336.2 495 339.5C495.0 342.8 494.3 347.3 492.9 351.5C491.4 355.7 489.1 360.8 486.3 364.7C483.6 368.6 478.0 373.0 476.4 374.6L478.6 379L486.3 376.8"/>
<path class="t" d="M489.6 298.8C490.9 302.8 495.1 315.9 497.3 323C499.5 330.1 502.0 336.9 502.7 341.6C503.4 346.4 503.1 347.6 501.6 351.5C500.2 355.4 496.9 360.7 494 364.7C491.1 368.7 485.7 373.9 484 375.7M492.9 298.8C494.2 302.8 498.4 315.9 500.5 323C502.6 330.1 504.6 336.6 505.2 341.5C505.8 346.4 505.5 348.3 504 352.5C502.5 356.7 499.2 362.3 496.3 366.5C493.4 370.7 488.1 375.9 486.5 377.8"/>
<rect class="m" x="490.4" y="260.6" width="6.3" height="6.3"/>
<circle class="b" cx="506.5" cy="266.2" r="5.2"/>
<path d="M504.5 264.5l3 1.5l-2.5 2z" fill="#fff"/>
<circle class="m" cx="506.5" cy="266.2" r="7.2"/>
<circle class="k" cx="526" cy="267.6" r="6.8" style="stroke-width:3"/>
<circle class="m" cx="526.4" cy="267.8" r="2.2"/>
<path d="M533.7 268.3h3.5v3h-3.5z" class="m"/>
<circle class="m" cx="508.6" cy="281.6" r="1.9"/>
<circle class="m" cx="512.8" cy="280.2" r="1.9"/>
<ellipse class="b" cx="507.2" cy="297.7" rx="2.5" ry="3.8"/>
<path class="m" d="M498 261C498.8 260.5 500.3 258.5 503 258C505.7 257.5 511.5 257.3 514 258C516.5 258.7 517.3 261.3 518 262M515 262C517.5 261.6 526.8 259.5 530 259.5C533.2 259.5 533.3 261.6 534 262"/>
<path class="t" d="M512 268C513.3 268.3 519.3 268.3 520 270C520.7 271.7 516.7 276.7 516 278"/>
<path class="k" d="M526.4 278L530.1 292L522.2 295.8L523.1 300.9L532.4 297.6M503 312.3L530.9 304.7L537.2 322.8L512.8 331.9L503 312.3"/>
<path d="M508.6 311L518.4 308.4L522.6 326.6L514.2 329.4Z" fill="#000"/>
<path d="M511.5 313.5l3-.8l1 3.2l-3 .9zM513 319l3-.9l1 3.2l-3 .9zM515 324.2l2.6-.8l.6 2.2l-2.6.9z" fill="#fff"/>
<path class="m" d="M519.8 310.2C521.5 309.7 528.1 306.5 530.2 307.4C532.3 308.3 531.9 314.4 532.3 315.8L522.5 318.6M522 311.5L524.5 321"/>
<path d="M520 318.5L533 315" stroke="#000" stroke-width="2.4"/>
<path class="m" d="M534 329L533 343"/>
<circle class="m" cx="550" cy="298.4" r="6.4"/>
<path class="t" style="stroke-width:1.1" d="M550.5 299L552.8 341.2"/>
<path class="f" d="M552.8 341.5H557M561 341.5H568M571 341.5H603.5V348M603.5 351V365.5"/>
<path class="m" d="M539 262C540.8 261.4 546.5 259.4 550 258.5C553.5 257.6 558.3 256.8 560 256.5M539 270.5C541.2 270.8 548.5 272.7 552 272.4C555.5 272.1 558.7 269.3 560 268.7"/>
<path class="t" d="M541 266C542.3 265.5 547.0 263.2 549 263C551.0 262.8 553.3 264.2 553 265C552.7 265.8 548.0 267.5 547 268"/>
</g>
<g id="22_hubright">
<path class="k" d="M578.7 280.9C582.9 279.7 596.3 275.6 603.8 273.9C611.2 272.1 617.6 270.4 623.4 270.4C629.2 270.4 633.7 272.1 638.8 273.9C643.9 275.6 650.2 278.3 654.2 280.9C658.2 283.5 660.6 286.5 662.5 289.3C664.4 292.1 664.9 295.1 665.3 297.7C665.6 300.3 666.0 302.4 664.6 304.7C663.2 307.0 661.7 308.8 656.9 311.6C652.1 314.4 643.5 318.2 636 321.4C628.5 324.5 617.8 328.9 612.2 330.5C606.6 332.1 605.3 331.4 602.5 331.2C599.7 331.0 596.7 329.5 595.5 329.1C592.9 330.4 583.8 335.8 580.1 336.8C576.4 337.9 574.3 335.6 573.1 335.4M585.7 280.2C586.9 282.6 591.0 289.7 592.7 294.9C594.5 300.1 595.3 305.9 596.2 311.6C597.1 317.3 597.9 326.2 598.3 329.1"/>
<path class="m" d="M591.3 279.5C592.5 281.6 596.7 287.2 598.3 292.1C599.9 297.0 600.3 302.7 601 308.8C601.7 314.9 602.2 325.6 602.4 329M595.5 280.9C597.4 282.5 604.1 287.0 606.6 290.7C609.1 294.4 609.9 296.8 610.8 303.3C611.7 309.8 612.0 325.4 612.2 329.8"/>
<path class="t" d="M606.6 290.7L610.8 293.5C614.3 292.3 626.0 287.8 631.8 286.5C637.6 285.2 642.1 284.6 645.8 285.8C649.5 287.0 652.1 290.6 654.2 293.5C656.3 296.4 657.4 300.8 658.3 303.3C659.2 305.9 659.5 307.9 659.7 308.8"/>
<path d="M629 290.7L636 287.9L644.4 288.6L652.8 297.7L655.6 304.7L654.2 310.2L636 317.2L620.6 325.6L618.5 322.8L619.2 314.4L629 303.3Z" fill="none" stroke="#000" stroke-width="2.2" stroke-linejoin="round"/>
<path d="M629 290.7L636 316.5" stroke="#000" stroke-width="2.6" fill="none"/>
<path class="m" d="M633.2 300.5L650 295.6M634.6 307.4L654.2 301.2"/>
<path class="t" d="M621 323L634 311M631.5 292.5C632.6 292.2 635.9 290.7 638 290.5C640.1 290.3 642.0 290.2 644 291.5C646.0 292.8 649.0 296.9 650 298"/>
<path class="k" d="M538.2 266.9C539.6 266.1 543.6 262.5 546.6 262C549.6 261.5 552.8 262.4 556.3 264.1C559.8 265.9 563.8 268.8 567.5 272.5C571.2 276.2 575.9 281.8 578.7 286.5C581.5 291.2 583.1 295.6 584.3 300.5C585.5 305.4 585.7 311.4 585.7 315.8C585.7 320.2 585.2 324.2 584.3 327C583.4 329.8 582.0 331.6 580.1 332.6C578.2 333.7 575.4 333.8 573.1 333.3C570.8 332.8 568.2 331.3 566.1 329.8C564.0 328.3 562.4 325.4 560.5 324.2C558.6 323.0 555.8 323.0 554.9 322.8"/>
<path class="m" d="M547.9 260.6C550.2 261.4 557.2 262.6 561.9 265.5C566.6 268.4 572.2 273.7 575.9 278.1C579.6 282.5 582.2 287.0 584.3 292.1C586.4 297.2 587.8 303.7 588.5 308.8C589.2 313.9 589.0 319.1 588.5 322.8C588.0 326.5 586.2 329.8 585.7 331.2"/>
<path class="k" d="M554.9 322.8L584.3 316.5M553.5 318.6C553.9 319.1 555.8 320.1 556 321.5C556.2 322.9 555.1 326.1 554.9 327"/>
<path class="m" d="M539.6 266.9L534 268.3"/>
<path class="t" d="M544 266C545.0 265.8 549.3 264.2 550 264.5C550.7 264.8 548.3 267.4 548 268"/>
<path class="k" d="M558 257L594 254.3"/>
<path class="m" d="M573.1 352.2L575.9 343M575.9 352.2L578.7 343M578.3 343.3C577.2 346.1 574.8 352.9 572 360C569.2 367.1 563.3 381.6 561.6 385.9"/>
<path class="t" d="M576 343.3C574.9 346.1 572.2 353.1 569.5 360C566.8 366.9 561.6 380.4 560 384.5"/>
</g>
<g id="23_hublow">
<path class="k" d="M440 433.4C443.5 434.6 454.0 439.0 461 440.4C468.0 441.8 474.9 442.3 481.9 441.8C488.9 441.3 495.9 439.9 502.9 437.6C509.9 435.3 516.8 431.8 523.8 427.8C530.8 423.8 539.0 418.0 544.8 413.8C550.6 409.6 555.1 406.2 558.8 402.7C562.5 399.2 565.8 394.5 567.2 392.9"/>
<path class="m" d="M462 443C465.3 443.2 475.1 444.8 482 444.3C488.9 443.8 496.3 442.4 503.5 440C510.7 437.6 517.9 434.1 525 430.2C532.1 426.2 540.1 420.6 546 416.3C551.9 412.0 556.8 408.1 560.5 404.5C564.2 400.9 566.8 396.6 568 395"/>
<path class="k" d="M533.6 395C536.6 393.7 547.1 388.8 551.8 387.3C556.5 385.8 559.3 385.4 561.6 385.9C563.9 386.4 565.1 389.4 565.8 390.1L556 405.5L543.4 405.5L533.6 395"/>
<path class="m" d="M537.8 395.7C540.8 395.5 552.7 393.1 556 394.3C559.3 395.5 557.2 401.3 557.4 402.7L544.8 404"/>
<path class="t" d="M556 394.3L560 388M553 394.5L554.5 403"/>
<path class="k" d="M512.7 384.5C516.0 386.4 526.9 392.1 532.2 395.7C537.6 399.3 542.7 404.4 544.8 406.2L543.4 409.7L526.6 419.4C524.8 419.4 517.8 419.9 515.5 419.4C513.2 418.9 513.2 417.1 512.7 416.6M507.1 367.7C507.8 368.6 510.6 370.5 511.3 373.3C512.0 376.1 511.3 382.6 511.3 384.5L518.3 384.5M507.1 367.7C507.3 366.1 507.6 360.4 508.5 358C509.4 355.6 511.4 354.0 512.7 353.1C514.0 352.2 515.6 352.5 516.2 352.4C517.1 350.8 520.0 345.6 521.7 342.6C523.4 339.6 525.1 335.7 526.6 334.2C528.1 332.7 529.3 333.3 530.8 333.5C532.3 333.7 534.8 333.9 535.7 335.6C536.6 337.4 536.8 341.9 536.4 344C536.0 346.1 534.8 345.9 533.6 348.2C532.4 350.5 531.0 354.3 529.4 358C527.8 361.7 525.6 366.1 523.8 370.5C521.9 374.9 519.2 382.2 518.3 384.5"/>
<ellipse class="k" cx="528.4" cy="339" rx="4.6" ry="6.6" transform="rotate(15 528.4 339)"/>
<ellipse class="m" cx="529" cy="339.2" rx="2" ry="4" transform="rotate(15 529 339.2)"/>
<path class="t" d="M509 367L514 356"/>
<path class="k" d="M461 388.7L469.3 381.7L484.7 383.1C487.3 381.5 496.4 374.9 500.1 373.3C503.8 371.7 505.2 372.6 507.1 373.3C509.0 374.0 510.6 375.6 511.3 377.5C512.0 379.4 511.3 383.3 511.3 384.5L502.9 391.5C502.4 393.8 502.4 402.2 500.1 405.5C497.8 408.8 492.9 410.8 488.9 411C484.9 411.2 479.8 408.1 476.3 406.9C472.8 405.7 469.9 405.4 468 404C466.1 402.6 466.4 401.1 465.2 398.5C464.0 395.9 461.7 390.3 461 388.7"/>
<circle class="m" cx="505" cy="381" r="3.8"/>
<path class="k" d="M486.5 393L493 389.5L500 392.5L501 402L494.5 406L487.5 403Z"/>
<ellipse class="m" cx="493.8" cy="397.8" rx="3.6" ry="5"/>
<circle class="t" cx="492" cy="397.5" r="11"/>
<path class="m" d="M491.5 393v10"/>
<circle class="b" cx="475" cy="391.5" r="2.6"/>
<circle cx="475" cy="391.5" r="0.8" fill="#fff"/>
<circle class="m" cx="472.8" cy="400.6" r="2.2"/>
<path class="t" d="M484.7 383.1C485.9 381.8 489.4 377.4 492 375C494.6 372.6 498.8 370.0 500.1 369M476 380C474.7 379.6 470.5 377.0 468 377.5C465.5 378.0 462.2 382.1 461 383"/>
<path class="k" d="M440 387.3C442.6 387.1 452.1 385.7 455.4 385.9C458.7 386.1 459.1 387.5 459.6 388.7C460.1 389.9 458.4 392.2 458.2 392.9L444.2 397.1C444.4 400.4 445.1 411.5 445.6 416.6C446.1 421.7 446.8 425.9 447 427.8"/>
<path class="m" d="M441 391L457 388.5M449 397L450 412"/>
<circle class="m" cx="457" cy="387.5" r="2.2"/>
<path class="t" d="M453.9 411.8L465.1 405.3M453.9 411.8C454.7 412.6 456.0 414.9 458.6 416.5C461.2 418.1 466.4 419.2 469.8 421.1C473.2 423.0 476.2 424.9 479.1 427.7C482.1 430.5 486.1 436.3 487.5 438M465.1 407.1C466.8 408.2 471.7 411.4 475.4 413.7C479.1 416.0 483.6 417.8 487.5 421.1C491.4 424.4 496.8 431.3 498.7 433.3"/>
<path d="M466 404.3L475.4 408.1L484.7 413.7L492.2 416.5L503.4 409L515.5 418.3L530 420.2" fill="none" stroke="#000" stroke-width="2.6" stroke-linejoin="round"/>
<path class="k" d="M495.9 416.6L505.7 429.2L515.5 425"/>
<path class="m" d="M498 419.5C499.8 418.9 506.5 415.8 509 416C511.5 416.2 512.3 420.2 513 421"/>
<path d="M508.5 425L515.5 422.2L518.3 427.8L511.3 430.6Z" fill="#000"/>
<path d="M511 425.5l3-1.2l1.2 2.6l-3 1.2z" fill="#fff"/>
<path d="M454.8 420.2L462.3 424L469.8 429.5L481 438" fill="none" stroke="#000" stroke-width="3" stroke-linecap="round" stroke-linejoin="round"/>
<path class="m" d="M460.4 425.8C461.6 426.9 464.8 430.1 467.9 432.3C471.0 434.5 477.1 437.8 479 438.9M460.5 432C461.4 431.9 465.4 430.7 466 431.4C466.6 432.1 462.0 434.7 464.2 436C466.4 437.3 476.5 438.5 479 439M456.7 431.4L462.3 428.6"/>
<path class="k" d="M461 330C461.7 333.5 462.6 343.6 465.2 351C467.8 358.4 474.1 369.9 476.3 374.7C478.5 379.5 478.0 378.9 478.3 379.7"/>
<path class="t" d="M448.4 330C449.3 332.3 450.7 336.1 454 344C457.3 351.9 465.7 371.9 468 377.5M451.5 330C452.4 332.3 453.8 336.2 457 344C460.2 351.8 468.2 371.5 470.5 377"/>
<ellipse class="k" cx="486.3" cy="351" rx="4.6" ry="8" transform="rotate(22 486.3 351)"/>
<path class="t" d="M484 358L489 344M521 381.7C523.8 382.4 531.5 385.9 537.8 385.9C544.1 385.9 555.3 382.4 558.8 381.7"/>
</g>
<g id="24_hubleft">
<path class="k" d="M407.1 341.9C409.0 343.5 415.5 348.7 418.3 351.7C421.1 354.7 423.0 358.7 423.9 360.1"/>
<path d="M430.8 355.9L444.8 348.9L446.2 369.9L436.4 376.9L430.8 372.7Z" fill="#000" stroke="#000" stroke-width="1.2" stroke-linejoin="round"/>
<path d="M434.5 357.5L438 355.8L439.5 370L436 372Z" fill="#fff"/>
<path d="M440.5 354.5L443 353.2L444 366.5L441.5 368.5Z" fill="#fff"/>
<path class="m" d="M423.9 351.7L429.4 351L429.4 356L425.3 357.3M424.5 360L430 358M423 364.5L430.5 364M424 366L429 372"/>
<path class="k" d="M422.5 369.9C423.6 371.8 426.8 378.3 429.4 381.1C431.9 383.9 435.9 385.7 437.8 386.6C439.7 387.5 439.2 386.1 440.6 386.6C442.0 387.1 445.3 388.9 446.2 389.4C447.8 388.9 453.7 386.6 456 386.6C458.3 386.6 459.7 388.5 460.2 389.4C460.7 390.3 459.0 391.7 458.8 392.2L446.2 399.2L441.5 389M440.6 386.6L442.7 395"/>
<path class="t" d="M437.8 393.6C435.5 395.5 427.4 401.1 423.9 404.8C420.4 408.5 418.1 414.1 416.9 416"/>
<path class="k" d="M416.9 427.2C417.1 425.3 417.1 419.3 418.3 416C419.5 412.7 422.0 409.2 423.9 407.6C425.8 406.0 427.8 405.5 429.4 406.2C431.0 406.9 432.7 408.3 433.6 411.8C434.5 415.3 434.8 424.6 435 427.2M414.1 446.1L415.5 427.9"/>
<path class="m" d="M418.3 444.7C418.5 441.2 418.6 429.6 419.7 423.8C420.8 418.0 424.3 412.1 425.2 409.8"/>
<path class="k" d="M435 419.6L435 433.5"/>
<path class="m" d="M419 432.1L433.6 425.2M419.7 436.3L433.6 430"/>
<path class="t" d="M420 428.5L433 422.5"/>
<path class="k" d="M436.6 418.3L444.5 418.3C444.7 419.7 445.7 424.8 445.9 426.7C446.1 428.6 445.6 429.0 445.5 429.5L437.1 434.2L436.6 418.3"/>
<path class="m" d="M439.9 419.3L439.9 432.3"/>
<path d="M442.7 395L443.6 407.1L445.9 423" fill="none" stroke="#000" stroke-width="2.8" stroke-linecap="round"/>
<path class="t" d="M449.2 401.5C449.5 403.5 450.8 410.3 451.1 413.7C451.4 417.1 451.1 420.6 451.1 422"/>
<path class="k" d="M442.7 398.7L454.8 396"/>
<path class="m" d="M447.3 423L451.1 422M447.3 423C447.5 424.4 446.7 429.2 448.3 431.4C449.9 433.6 455.3 435.2 456.7 436"/>
<path class="t" d="M463 440.5C465.8 440.7 473.4 442.4 479.7 441.9C486.0 441.4 497.2 438.4 500.7 437.7"/>
<path class="k" d="M432.2 323.8L437.8 329.3"/>
<circle class="b" cx="436.4" cy="338.4" r="2.3"/>
<path class="t" d="M442 330.7C446.0 338.6 460.4 369.9 465.8 378.3C471.2 386.7 472.7 380.6 474.1 381.1M444.8 329L469 377"/>
<path class="m" d="M447.6 326.6C449.9 330.8 457.2 343.4 461.6 352C466.0 360.6 472.0 373.9 474.1 378.3"/>
<circle class="m" cx="481.1" cy="304.9" r="2.8"/>
<path class="t" d="M470 381.1L461.6 385.2"/>
</g>
<g id="30_harness">
<path class="k" d="M680 566C681.0 564.3 684.3 561.0 686 556C687.7 551.0 688.3 543.0 690 536C691.7 529.0 694.0 520.3 696 514C698.0 507.7 699.7 503.0 702 498C704.3 493.0 707.7 487.2 710 484C712.3 480.8 715.0 479.8 716 479M680 575C681.3 574.3 686.0 572.5 688 571C690.0 569.5 690.3 569.5 692 566C693.7 562.5 696.3 556.3 698 550C699.7 543.7 700.3 535.0 702 528C703.7 521.0 706.0 513.7 708 508C710.0 502.3 712.2 497.7 714 494C715.8 490.3 718.2 487.3 719 486"/>
<path d="M718 482C722 476 726 472 730 468C738 460 744 455 750 450C756 445 760 441 766 438C772 434 777 431.5 782 430C786 428.5 789 428 792 428C795 428.5 797.5 430 799 432C801 434 802 436 803 438.5" fill="none" stroke="#000" stroke-width="3.2" stroke-linecap="round"/>
<path d="M720 481C728 471 740 459 750 451.5C760 443.5 772 433.5 788 430" fill="none" stroke="#fff" stroke-width="0.8" stroke-dasharray="2 2"/>
<path class="k" d="M802 438L816 436L818 448L804 449L802 438"/>
<path class="m" d="M814.5 438C814.7 438.8 814.9 442.2 815.5 443C816.1 443.8 817.6 443.0 818 443"/>
<path d="M719 484C724 481 729 478 734 475C739 472.5 744 470.5 748 469C751 468 754 467.6 756 468C759 469 761 471 762 474" fill="none" stroke="#000" stroke-width="2.8" stroke-linecap="round"/>
<path class="k" d="M751 479L764 479L764 491L752 491L751 479"/>
<path class="m" d="M756 473C757.0 473.0 761.0 472.0 762 473C763.0 474.0 762.0 478.0 762 479M756 473L756 491M758 484L758 490"/>
<path d="M719 480C718 475 717 471 716 468C714 463 712 459 711 456C710 452 710.5 449.5 712 448C714 446 716.5 445.4 719 445" fill="none" stroke="#000" stroke-width="3" stroke-linecap="round"/>
<path class="k" d="M719 445C719.8 444.7 721.5 443.4 724 443C726.5 442.6 732.3 442.5 734 442.4L747 447L747 460L740 462C738.0 461.3 730.5 459.7 728 458C725.5 456.3 725.5 453.0 725 452C724.2 451.7 721.0 451.2 720 450C719.0 448.8 719.2 445.8 719 445"/>
<path class="m" d="M724 443L727 451M734 442.4C734.2 444.5 733.0 452.4 735 455C737.0 457.6 744.2 457.5 746 458"/>
<path class="t" d="M730 446L733 453"/>
<path d="M734 462C729 468 724 474 719 480" fill="none" stroke="#000" stroke-width="3" stroke-linecap="round"/>
<path d="M715 481C712 478.5 709 477 706 476C702 475 699 475 696 476C692.5 478 690 481 688 484C686 488 685 491 685 494" fill="none" stroke="#000" stroke-width="3" stroke-linecap="round"/>
<path class="k" d="M685 498L698 498L702 508L688 509L685 498"/>
<path class="m" d="M698 498L699.5 507"/>
<path d="M685 494C683 492 680.5 491 678 491C675.5 492 673.5 494 672 496C669.5 499.5 667 503 664 505C661 506 658.5 505.5 656 504C654.5 503 653.5 501.5 653 500" fill="none" stroke="#000" stroke-width="2.6" stroke-linecap="round"/>
<path class="k" d="M643 498L651 490C651.5 491.3 654.0 495.8 654 498C654.0 500.2 651.5 502.2 651 503L645 504L647 500L643 498M630 579L660 566L666 566C666.7 568.3 669.3 576.7 670 580C670.7 583.3 670.0 585.0 670 586L666 588L666 595L645 605L639 605L633 598L630 579"/>
<path d="M632 580L646 574L652 598L640 603.5Z" fill="#000"/>
<path d="M635 583l3-1.3l.8 3.3l-3 1.3zM636 589l3-1.3l.8 3.3l-3 1.3zM637.5 595l3-1.3l.8 3.3l-3 1.3z" fill="#fff"/>
<path d="M643 578.5l2-.8l4.5 17.5l-2 .9z" fill="#fff"/>
<path class="m" d="M647 574.5C649.2 573.5 657.0 566.9 660 568.5C663.0 570.1 664.2 581.4 665 584L652 590M652 590C652.2 591.2 650.7 597.3 653 597.5C655.3 597.7 663.8 592.1 666 591"/>
<path class="t" d="M649 580L652 588"/>
<path d="M666 566L680 568L681 575L672 584Z" fill="#000" stroke="#000" stroke-width="1"/>
<path d="M669 569l8 1.5M669 573l8 1M670 577l5-.5" stroke="#fff" stroke-width="0.9"/>
<path class="m" d="M640 603.5L666 591"/>
</g>
<g id="31_part2left">
<path class="k" d="M734 536C732.7 536.2 728.0 536.0 726 537C724.0 538.0 722.7 541.2 722 542C719.8 547.0 711.5 564.3 709 572C706.5 579.7 707.0 583.3 707 588C707.0 592.7 707.3 594.3 709 600C710.7 605.7 715.7 618.3 717 622C716.5 622.5 714.2 622.7 714 625C713.8 627.3 714.8 632.0 716 636C717.2 640.0 719.3 646.5 721 649C722.7 651.5 725.2 650.7 726 651C731.0 649.8 749.3 646.0 756 644C762.7 642.0 761.8 643.0 766 639C770.2 635.0 777.7 625.5 781 620C784.3 614.5 785.3 611.7 786 606C786.7 600.3 785.8 593.0 785 586C784.2 579.0 782.5 570.3 781 564C779.5 557.7 777.8 552.0 776 548C774.2 544.0 772.3 542.1 770 540C767.7 537.9 763.3 536.3 762 535.6C761.3 536.3 760.3 535.6 758 540C755.7 544.4 750.7 555.3 748 562C745.3 568.7 743.0 577.0 742 580M734 536C733.8 537.0 734.0 539.3 733 542C732.0 544.7 730.2 547.7 728 552C725.8 556.3 722.3 564.7 720 568C717.7 571.3 715.8 571.2 714 572C712.2 572.8 710.2 572.4 709.5 572.5"/>
<path class="t" d="M731.5 538C731.2 539.2 731.6 541.0 730 545C728.4 549.0 723.3 559.2 722 562"/>
<path class="k" d="M725 560L728 578L731 580L736 579C737.2 580.3 741.7 584.5 743 587C744.3 589.5 744.5 591.2 744 594C743.5 596.8 744.0 599.3 740 604C736.0 608.7 723.3 619.0 720 622"/>
<path class="m" d="M746 590C746.2 591.2 747.5 594.3 747 597C746.5 599.7 743.7 604.5 743 606"/>
<path class="t" d="M738 600L722 620"/>
<path class="k" d="M776 551C775.3 552.5 774.7 555.2 772 560C769.3 564.8 763.2 574.3 760 580C756.8 585.7 754.7 588.3 753 594C751.3 599.7 750.5 606.7 750 614C749.5 621.3 750.0 634.0 750 638C750.7 638.7 751.3 641.8 754 642C756.7 642.2 764.0 639.5 766 639"/>
<path class="m" d="M777 559C777.8 562.2 781.0 571.2 782 578C783.0 584.8 783.2 594.0 783 600C782.8 606.0 782.2 610.0 781 614C779.8 618.0 778.8 620.0 776 624C773.2 628.0 766.0 635.7 764 638M752 596C751.9 599.0 751.5 607.3 751.5 614C751.5 620.7 751.9 632.3 752 636"/>
<path class="k" d="M717 622L732 616"/>
<path class="t" d="M732 616L740 646M748 562C749.2 562.7 753.7 563.3 755 566C756.3 568.7 756.5 573.3 756 578C755.5 582.7 752.7 591.3 752 594M742 580L745 590"/>
</g>
<g id="32_part2low">
<path class="k" d="M809 631C816.8 626.7 840.8 612.8 856 605C871.2 597.2 890.7 587.8 900 584C909.3 580.2 909.2 582.0 912 582C914.8 582.0 915.7 582.0 917 584C918.3 586.0 918.0 589.3 920 594C922.0 598.7 927.5 609.0 929 612"/>
<path class="m" d="M900 585.5C902.0 585.2 909.5 583.9 912 584C914.5 584.1 914.0 584.2 915 586C916.0 587.8 916.0 590.7 918 595C920.0 599.3 925.5 609.2 927 612"/>
<path class="k" d="M934 599C934.5 598.7 936.0 596.5 937 597C938.0 597.5 938.5 596.8 940 602C941.5 607.2 943.3 618.3 946 628C948.7 637.7 953.0 650.7 956 660C959.0 669.3 961.3 676.0 964 684C966.7 692.0 970.2 702.0 972 708C973.8 714.0 974.7 716.5 975 720C975.3 723.5 975.5 726.3 974 729C972.5 731.7 971.0 732.8 966 736C961.0 739.2 951.0 744.7 944 748C937.0 751.3 928.7 754.2 924 756C919.3 757.8 917.3 758.5 916 759C916.5 757.5 919.0 753.2 919 750C919.0 746.8 917.8 743.3 916 740C914.2 736.7 910.7 732.2 908 730C905.3 727.8 901.3 727.5 900 727C899.0 725.2 896.3 720.0 894 716C891.7 712.0 887.3 705.2 886 703M934 599L935 606M836 648L874 646C879.0 644.0 895.0 639.0 904 634C913.0 629.0 922.0 620.8 928 616C934.0 611.2 938.0 606.8 940 605"/>
<path class="m" d="M837 650.5C843.2 650.1 862.7 650.7 874 648.3C885.3 645.9 895.8 641.3 905 636.3C914.2 631.3 923.1 623.1 929 618.3C934.9 613.5 938.6 609.3 940.5 607.5"/>
<path class="k" d="M836 648L838 651M809 631C809.2 631.5 804.8 628.5 810 634C815.2 639.5 831.7 654.3 840 664C848.3 673.7 854.3 683.3 860 692C865.7 700.7 871.0 711.3 874 716C877.0 720.7 877.3 719.3 878 720L892 716"/>
<path class="m" d="M812.5 632.5C817.5 637.5 834.2 652.8 842.5 662.5C850.8 672.2 856.8 681.9 862.5 690.5C868.2 699.1 874.6 710.1 877 714M838 651C842.7 655.8 858.0 670.8 866 680C874.0 689.2 881.0 699.3 886 706C891.0 712.7 894.3 717.7 896 720"/>
<path class="k" d="M851 613C853.8 614.7 862.8 618.2 868 623C873.2 627.8 879.7 638.8 882 642"/>
<path class="t" d="M840 620L850 615M840 620C840.5 621.0 840.3 621.3 843 626C845.7 630.7 853.8 644.3 856 648M843 626C846.2 626.7 857.8 630.5 862 630C866.2 629.5 867.0 624.2 868 623M862 630L876 646"/>
<path class="k" d="M891 644C894.2 648.7 904.5 663.0 910 672C915.5 681.0 920.0 690.3 924 698C928.0 705.7 931.3 712.3 934 718C936.7 723.7 938.3 729.2 940 732C941.7 734.8 942.2 735.5 944 735C945.8 734.5 950.2 731.5 951 729C951.8 726.5 949.3 721.5 949 720"/>
<path class="m" d="M894 643C897.2 647.7 907.5 662.0 913 671C918.5 680.0 923.2 689.5 927 697C930.8 704.5 934.5 712.8 936 716"/>
<path class="t" d="M935 716L948 726M883 602L902 630M902 638C905.0 643.0 914.0 657.7 920 668C926.0 678.3 933.3 691.0 938 700C942.7 709.0 946.3 718.3 948 722M860 650C864.0 655.3 875.7 670.0 884 682C892.3 694.0 903.7 711.2 910 722C916.3 732.8 920.0 742.8 922 747M922 747L972 722"/>
<path class="m" d="M866 684C866.5 685.7 867.7 691.7 869 694C870.3 696.3 872.5 697.7 874 698C875.5 698.3 877.5 697.3 878 696C878.5 694.7 877.2 691.0 877 690M878 712L889 708"/>
</g>
<g id="33_part2up">
<path class="k" d="M873 460L875 454C883.8 453.0 915.0 448.8 928 448C941.0 447.2 948.8 448.8 953 449L953 452C952.2 452.2 948.5 451.8 948 453C947.5 454.2 948.0 457.7 950 459C952.0 460.3 955.0 460.5 960 461C965.0 461.5 973.3 461.3 980 462C986.7 462.7 993.3 464.7 1000 465C1006.7 465.3 1014.5 464.5 1020 464C1025.5 463.5 1030.2 462.8 1033 462C1035.8 461.2 1036.3 459.8 1037 459.4C1037.3 460.5 1038.3 461.9 1039 466C1039.7 470.1 1040.7 479.2 1041 484C1041.3 488.8 1041.0 493.2 1041 495C1037.5 496.8 1028.8 501.7 1020 506C1011.2 510.3 999.3 516.3 988 521C976.7 525.7 961.5 531.2 952 534C942.5 536.8 934.5 537.3 931 538C931.0 537.5 929.8 536.2 931 535C932.2 533.8 936.7 533.8 938 531C939.3 528.2 938.8 520.2 939 518M873 460C876.5 459.5 889.8 457.3 894 457C898.2 456.7 897.3 457.8 898 458L908 486L898 490L900 497L888 502C889.0 504.3 891.3 512.3 894 516C896.7 519.7 901.0 522.7 904 524C907.0 525.3 910.7 524.0 912 524L938 516"/>
<path class="t" d="M875 458.5L894 455.5"/>
<path class="m" d="M896 459L905 485"/>
<path class="t" d="M890 503.5L896 516"/>
<path class="k" d="M904 467C906.7 468.2 915.3 470.8 920 474C924.7 477.2 928.7 481.3 932 486C935.3 490.7 938.2 496.3 940 502C941.8 507.7 943.0 514.7 943 520C943.0 525.3 940.5 531.7 940 534"/>
<path class="m" d="M906 466C909.0 467.3 919.0 470.7 924 474C929.0 477.3 932.8 481.3 936 486C939.2 490.7 941.3 496.3 943 502C944.7 507.7 945.8 515.0 946 520C946.2 525.0 944.3 530.0 944 532M904 467L948 460M912 479C912.5 478.5 912.7 475.3 915 476C917.3 476.7 926.2 481.7 926 483C925.8 484.3 916.3 484.7 914 484C911.7 483.3 912.3 479.8 912 479"/>
<path class="k" d="M933 483C937.5 481.8 952.2 477.5 960 476C967.8 474.5 974.7 474.0 980 474C985.3 474.0 987.3 474.3 992 476C996.7 477.7 1003.8 481.0 1008 484C1012.2 487.0 1015.3 491.0 1017 494C1018.7 497.0 1018.8 500.0 1018 502C1017.2 504.0 1013.0 505.3 1012 506C1008.0 508.0 998.0 513.7 988 518C978.0 522.3 958.0 529.7 952 532M940 482C941.0 484.0 944.3 489.0 946 494C947.7 499.0 949.2 506.0 950 512C950.8 518.0 950.8 527.0 951 530M950 512L1010 490"/>
<path class="m" d="M995 480L997 484M1033 463L1037 496M952 528L1016 502"/>
<path class="t" d="M950 459C952.5 459.8 959.2 462.8 965 464C970.8 465.2 977.5 465.8 985 466.5C992.5 467.2 1002.0 468.2 1010 468C1018.0 467.8 1029.2 465.5 1033 465"/>
</g>
<g id="40_airbag">
<path class="k" d="M1074 634C1075.5 632.5 1077.0 629.7 1083 625C1089.0 620.3 1102.5 610.7 1110 606C1117.5 601.3 1121.3 600.0 1128 597C1134.7 594.0 1143.0 590.1 1150 588C1157.0 585.9 1164.3 584.9 1170 584.4C1175.7 583.9 1178.3 584.1 1184 585C1189.7 585.9 1197.3 587.5 1204 590C1210.7 592.5 1218.0 596.7 1224 600C1230.0 603.3 1235.7 606.7 1240 610C1244.3 613.3 1247.0 616.3 1250 620C1253.0 623.7 1255.8 627.7 1258 632C1260.2 636.3 1261.8 640.7 1263 646C1264.2 651.3 1265.0 659.0 1265.5 664C1266.0 669.0 1266.2 671.7 1266 676C1265.8 680.3 1265.7 684.0 1264 690C1262.3 696.0 1259.0 705.3 1256 712C1253.0 718.7 1250.3 724.0 1246 730C1241.7 736.0 1236.0 742.3 1230 748C1224.0 753.7 1218.3 759.0 1210 764C1201.7 769.0 1190.0 774.5 1180 778C1170.0 781.5 1160.0 784.0 1150 785C1140.0 786.0 1125.0 784.2 1120 784C1116.7 782.3 1106.0 777.5 1100 774C1094.0 770.5 1086.7 764.8 1084 763C1083.0 761.5 1080.2 756.7 1078 754C1075.8 751.3 1072.2 748.2 1071 747L1072 742C1073.3 741.8 1078.5 742.0 1080 741C1081.5 740.0 1081.2 738.2 1081 736C1080.8 733.8 1080.0 732.3 1079 728C1078.0 723.7 1076.3 714.3 1075 710C1073.7 705.7 1071.7 703.3 1071 702L1072 694C1070.3 692.3 1064.0 686.3 1062 684C1060.0 681.7 1060.3 680.7 1060 680C1061.3 677.3 1065.2 669.7 1068 664C1070.8 658.3 1075.5 649.0 1077 646L1079 640L1074 634"/>
<path class="m" d="M1083 625C1083.8 625.2 1083.5 628.8 1088 626C1092.5 623.2 1106.3 611.0 1110 608M1079 640L1090 628"/>
<path class="t" d="M1084 632C1085.3 630.6 1089.3 625.8 1092 623.5C1094.7 621.2 1098.7 618.9 1100 618"/>
<ellipse class="t" cx="1090" cy="625" rx="2.5" ry="1.5" transform="rotate(-30 1090 625)"/>
<path class="m" d="M1104 611L1126 598.5M1062 679C1063.0 679.2 1065.0 677.5 1068 680C1071.0 682.5 1077.0 689.0 1080 694C1083.0 699.0 1084.0 703.7 1086 710C1088.0 716.3 1090.0 725.7 1092 732C1094.0 738.3 1097.0 743.7 1098 748C1099.0 752.3 1099.0 755.7 1098 758C1097.0 760.3 1094.3 761.2 1092 762C1089.7 762.8 1085.3 762.8 1084 763"/>
<path class="t" d="M1064 682.5C1066.2 684.7 1073.8 690.8 1077 695.5C1080.2 700.2 1081.0 704.8 1083 711C1085.0 717.2 1087.0 726.7 1089 733C1091.0 739.3 1094.0 745.0 1095 749C1096.0 753.0 1095.8 755.2 1095 757C1094.2 758.8 1090.8 759.5 1090 760"/>
<path class="m" d="M1078 754C1079.7 753.8 1085.7 752.5 1088 753C1090.3 753.5 1091.7 755.8 1092 757C1092.3 758.2 1090.3 759.5 1090 760"/>
<path class="t" d="M1242 614C1239.0 612.3 1230.0 606.4 1224 604C1218.0 601.6 1212.3 599.9 1206 599.6C1199.7 599.3 1193.7 599.6 1186 602C1178.3 604.4 1167.7 608.7 1160 614C1152.3 619.3 1146.0 626.7 1140 634C1134.0 641.3 1128.3 650.0 1124 658C1119.7 666.0 1116.5 673.3 1114 682C1111.5 690.7 1109.0 701.3 1109 710C1109.0 718.7 1110.8 726.3 1114 734C1117.2 741.7 1122.3 749.7 1128 756C1133.7 762.3 1141.0 768.2 1148 772C1155.0 775.8 1163.0 778.7 1170 779C1177.0 779.3 1183.3 776.5 1190 774C1196.7 771.5 1206.7 765.7 1210 764M1242 617C1240.0 615.5 1235.3 610.5 1230 608C1224.7 605.5 1216.7 602.7 1210 602C1203.3 601.3 1197.0 602.0 1190 604C1183.0 606.0 1175.0 609.0 1168 614C1161.0 619.0 1154.0 627.0 1148 634C1142.0 641.0 1136.3 648.3 1132 656C1127.7 663.7 1124.3 671.7 1122 680C1119.7 688.3 1117.7 697.3 1118 706C1118.3 714.7 1120.7 724.3 1124 732C1127.3 739.7 1132.3 746.3 1138 752C1143.7 757.7 1151.3 762.8 1158 766C1164.7 769.2 1171.0 771.0 1178 771C1185.0 771.0 1192.7 768.8 1200 766C1207.3 763.2 1215.3 758.7 1222 754C1228.7 749.3 1235.3 743.3 1240 738C1244.7 732.7 1248.3 724.7 1250 722"/>
<ellipse class="t" cx="1197" cy="689" rx="34" ry="45.5" transform="rotate(10 1197 689)"/>
<ellipse cx="1197" cy="689" rx="23" ry="30" transform="rotate(8 1197 689)" fill="none" stroke="#000" stroke-width="3.2"/>
<ellipse class="t" cx="1197" cy="689" rx="20" ry="27" transform="rotate(8 1197 689)"/>
<ellipse class="k" cx="1200" cy="691" rx="13.5" ry="16.5" transform="rotate(8 1200 691)"/>
<path class="m" d="M1197.5 675L1202.5 707M1187 694.5L1213 686.5"/>
<circle class="m" cx="1182.5" cy="683" r="4"/>
<circle class="m" cx="1193" cy="671.5" r="4"/>
<circle class="m" cx="1207" cy="669" r="4"/>
<path d="M1181 681l3 4M1184 681l-3 4M1191 670l4 3.5M1195 669.5l-3.5 4M1205 667l4 4.5M1209 667l-3.5 4.5" stroke="#000" stroke-width="1.2" fill="none"/>
<g class="m"><path d="M1229 641l8-4.5M1235.5 633.5l2 6M1231 638.5a3 3 0 1 0 5 2.5"/></g>
<g class="m"><path d="M1141.5 682.5l2 5.5M1142.5 685.5l8-2.5M1146 682a3 3 0 1 1 1 5.5"/></g>
<path d="M1195 748.5L1223.5 736.5L1224 748L1196 760Z" fill="#000"/>
<g stroke="#fff" stroke-width="0.9" fill="none"><path d="M1199.5 749v7.5M1203.7 747.2v7.5M1208 745.4v7.5M1212.2 743.6v7.5M1216.5 741.8v7.5M1220.5 740v7.5"/><path d="M1196.5 754.5L1223.5 743" stroke-width="0.6"/></g>
<path class="t" d="M1254 713C1252.3 715.8 1248.3 724.3 1244 730C1239.7 735.7 1233.7 741.8 1228 747C1222.3 752.2 1213.0 758.7 1210 761"/>
</g>
</svg>
</body></html>
